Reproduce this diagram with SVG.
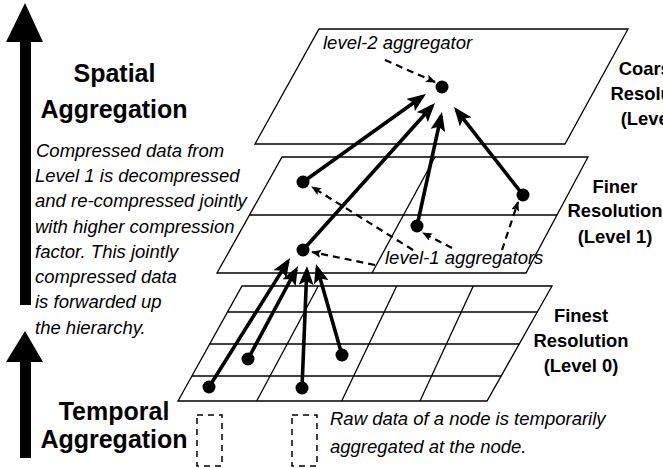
<svg xmlns="http://www.w3.org/2000/svg" width="663" height="468" viewBox="0 0 663 468">
<defs>
<style>
.plane{fill:none;stroke:#000;stroke-width:1.3}
.grid{stroke:#000;stroke-width:1.3;fill:none}
.arr{stroke:#000;stroke-width:3.6;fill:none;marker-end:url(#big)}
.dash{stroke:#000;stroke-width:2.2;fill:none;stroke-dasharray:7 5;marker-end:url(#small)}
.dot{fill:#000}
.big{font-family:"Liberation Sans",Arial,sans-serif;font-weight:bold;font-size:25px;fill:#000}
.res{font-family:"Liberation Sans",Arial,sans-serif;font-weight:bold;font-size:18.4px;fill:#000;text-anchor:middle}
.it{font-family:"Liberation Sans",Arial,sans-serif;font-style:italic;font-size:18.5px;fill:#000}
.box{fill:none;stroke:#000;stroke-width:1.5;stroke-dasharray:6 5}
</style>
<marker id="big" viewBox="0 0 19 15" refX="15" refY="7.5" markerWidth="19" markerHeight="15" markerUnits="userSpaceOnUse" orient="auto">
<path d="M0,0 L19,7.5 L0,15 L4,7.5 Z" fill="#000"/>
</marker>
<marker id="small" viewBox="0 0 10 8" refX="9" refY="4" markerWidth="10" markerHeight="8" markerUnits="userSpaceOnUse" orient="auto">
<path d="M0,0 L10,4 L0,8 L2,4 Z" fill="#000"/>
</marker>
</defs>
<rect width="663" height="468" fill="#fff"/>

<g id="big-arrows">
<polygon points="25,3 43,42 31,42 31,305 20,305 20,42 6,42" fill="#000"/>
<polygon points="25,331 43,362 31,362 31,458 20,458 20,362 6,362" fill="#000"/>
</g>

<g id="level2-plane">
<polygon class="plane" points="319,29 628,29 565,144 255,144"/>
</g>
<g id="level1-plane">
<polygon class="plane" points="282,157 588,157 526,273 217,273"/>
<line class="grid" x1="249" y1="215" x2="557" y2="215"/>
<line class="grid" x1="435" y1="157" x2="372" y2="273"/>
</g>
<g id="level0-plane">
<polygon class="plane" points="242,286 552,286 487,401 178,401"/>
<line class="grid" x1="227.5" y1="312" x2="537.3" y2="312"/>
<line class="grid" x1="209.7" y1="344" x2="519.2" y2="344"/>
<line class="grid" x1="191.9" y1="376" x2="501.1" y2="376"/>
<line class="grid" x1="318.3" y1="286" x2="256.7" y2="401"/>
<line class="grid" x1="396.7" y1="286" x2="341.7" y2="401"/>
<line class="grid" x1="473.3" y1="286" x2="420" y2="401"/>
</g>

<g id="connectors">
<line class="arr" x1="303" y1="182" x2="422.7" y2="96.3"/>
<line class="arr" x1="303" y1="250" x2="432.3" y2="106"/>
<line class="arr" x1="417" y1="226" x2="441.1" y2="115.9"/>
<line class="arr" x1="523" y1="195" x2="456.5" y2="110.1"/>
<line class="arr" x1="209" y1="387" x2="287.9" y2="261.4"/>
<line class="arr" x1="248" y1="359" x2="296.1" y2="269.5"/>
<line class="arr" x1="302" y1="388" x2="306.8" y2="270"/>
<line class="arr" x1="342" y1="355" x2="317.1" y2="267.8"/>
<line class="dash" x1="385" y1="60" x2="435" y2="82"/>
<line class="dash" x1="413" y1="250" x2="312" y2="187"/>
<line class="dash" x1="452" y1="248" x2="423" y2="233"/>
<line class="dash" x1="502" y1="250" x2="518" y2="202"/>
<line class="dash" x1="375" y1="265" x2="312" y2="252"/>
</g>

<g id="node-l2"><circle class="dot" cx="442" cy="87" r="6.5"/></g>
<g id="node-l1a"><circle class="dot" cx="303" cy="182" r="6.5"/></g>
<g id="node-l1b"><circle class="dot" cx="523" cy="195" r="6.5"/></g>
<g id="node-l1c"><circle class="dot" cx="417" cy="226" r="6.5"/></g>
<g id="node-l1d"><circle class="dot" cx="303" cy="250" r="6.5"/></g>
<g id="node-l0a"><circle class="dot" cx="248" cy="359" r="6.5"/></g>
<g id="node-l0b"><circle class="dot" cx="342" cy="355" r="6.5"/></g>
<g id="node-l0c"><circle class="dot" cx="209" cy="387" r="6.5"/></g>
<g id="node-l0d"><circle class="dot" cx="302" cy="388" r="6.5"/></g>

<g id="temporal-boxes">
<rect class="box" x="197" y="415" width="25" height="51"/>
<rect class="box" x="292" y="415" width="25" height="51"/>
</g>

<g id="labels">
<text class="big" x="114.5" y="82" text-anchor="middle">Spatial</text>
<text class="big" x="114" y="118" text-anchor="middle">Aggregation</text>
<text class="it" x="36" y="157">Compressed data from</text>
<text class="it" x="35" y="182">Level 1 is decompressed</text>
<text class="it" x="35" y="207">and re-compressed jointly</text>
<text class="it" x="35" y="233">with higher compression</text>
<text class="it" x="35" y="258">factor. This jointly</text>
<text class="it" x="35" y="283">compressed data</text>
<text class="it" x="35" y="308">is forwarded up</text>
<text class="it" x="35" y="334">the hierarchy.</text>
<text class="big" x="114" y="420" text-anchor="middle">Temporal</text>
<text class="big" x="114" y="448" text-anchor="middle">Aggregation</text>
<text class="it" x="323" y="49">level-2 aggregator</text>
<text class="it" x="385" y="264">level-1 aggregators</text>
<text class="it" x="330" y="425">Raw data of a node is temporarily</text>
<text class="it" x="330" y="453">aggregated at the node.</text>
<text class="res" x="658" y="75">Coarsest</text>
<text class="res" x="658" y="100">Resolution</text>
<text class="res" x="658" y="125">(Level 2)</text>
<text class="res" x="615" y="193">Finer</text>
<text class="res" x="615" y="217">Resolution</text>
<text class="res" x="615" y="243">(Level 1)</text>
<text class="res" x="581" y="322">Finest</text>
<text class="res" x="581" y="347">Resolution</text>
<text class="res" x="581" y="372">(Level 0)</text>
</g>
</svg>
